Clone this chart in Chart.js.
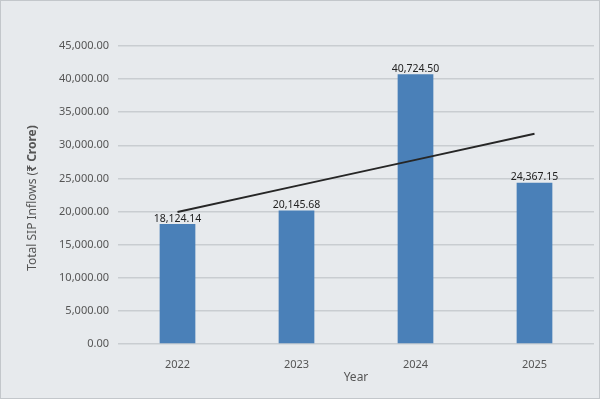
<!DOCTYPE html>
<html>
<head>
<meta charset="utf-8">
<script src="https://cdn.jsdelivr.net/npm/chart.js@4"></script>
<style>
  html, body { margin: 0; padding: 0; background: #e7eaed; }
  #wrap { width: 600px; height: 399px; }
</style>
</head>
<body>
<div id="wrap"><canvas id="sip-chart"></canvas></div>
<script>
const years = ['2022', '2023', '2024', '2025'];
const sipInflows = [18124.14, 20145.68, 40724.50, 24367.15];
// trend line (start ~19,950, end ~31,740)
const trendValues = [19944, 23875, 27806, 31737];
const yTitleParts = [['Total SIP Inflows (', 'normal'], ['₹ Crore)', 'bold']];

function fmt(v) {
    return Number(v).toLocaleString('en-US', { minimumFractionDigits: 2, maximumFractionDigits: 2 });
}

const frame = {
    id: 'frame',
    beforeDraw(chart) {
        const ctx = chart.ctx;
        ctx.save();
        ctx.fillStyle = '#e7eaed';
        ctx.fillRect(0, 0, chart.width, chart.height);
        ctx.strokeStyle = '#c3c7cb';
        ctx.lineWidth = 1;
        ctx.strokeRect(0.5, 0.5, chart.width - 1, chart.height - 1);
        ctx.restore();
    }
};

// value labels on top of the bars (bar dataset is index 1)
const barLabels = {
    id: 'barLabels',
    afterDatasetsDraw(chart) {
        const ctx = chart.ctx;
        const meta = chart.getDatasetMeta(1);
        ctx.save();
        ctx.font = '10.5px "Noto Sans"';
        ctx.fillStyle = '#222';
        ctx.textAlign = 'center';
        ctx.textBaseline = 'bottom';
        meta.data.forEach((bar, i) => {
            ctx.fillText(fmt(sipInflows[i]), bar.x, bar.y);
        });
        ctx.restore();
    }
};

// y axis title with the unit part in bold
const yTitle = {
    id: 'yTitle',
    afterDraw(chart) {
        const ctx = chart.ctx;
        const area = chart.chartArea;
        ctx.save();
        ctx.translate(33, (area.top + area.bottom) / 2 + 3);
        ctx.rotate(-Math.PI / 2);
        ctx.fillStyle = '#555';
        ctx.textBaseline = 'middle';
        let total = 0;
        yTitleParts.forEach(([t, w]) => {
            ctx.font = w + ' 12px "Noto Sans"';
            total += ctx.measureText(t).width;
        });
        let x = -total / 2;
        yTitleParts.forEach(([t, w]) => {
            ctx.font = w + ' 12px "Noto Sans"';
            ctx.fillText(t, x, 0);
            x += ctx.measureText(t).width;
        });
        ctx.restore();
    }
};

const chart = new Chart(document.getElementById('sip-chart'), {
    data: {
        labels: years,
        datasets: [{
            type: 'line',
            label: 'Trend',
            data: trendValues,
            borderColor: '#262626',
            borderWidth: 2,
            pointRadius: 0,
            fill: false,
            order: 0
        }, {
            type: 'bar',
            label: 'Total SIP Inflows',
            data: sipInflows,
            backgroundColor: '#4a80b8',
            barPercentage: 0.6,
            categoryPercentage: 0.5,
            order: 1
        }]
    },
    options: {
        responsive: true,
        maintainAspectRatio: false,
        animation: false,
        layout: { padding: { top: 46, right: 6, left: 0, bottom: 0 } },
        plugins: {
            legend: { display: false },
            tooltip: { enabled: false }
        },
        scales: {
            x: {
                grid: { display: false },
                border: { display: false },
                ticks: { color: '#555', font: { family: 'Noto Sans', size: 11 }, padding: 6 },
                title: {
                    display: true, text: 'Year', color: '#555',
                    font: { family: 'Noto Sans', size: 12 },
                    padding: { top: 0, bottom: 14 }
                },
                afterFit(s) { s.height = 55; }
            },
            y: {
                min: 0, max: 45000,
                ticks: { stepSize: 5000, color: '#555', font: { family: 'Noto Sans', size: 11 }, padding: 9, callback: v => fmt(v) },
                grid: { color: '#c9cdd1', lineWidth: 1.5, drawTicks: false },
                border: { display: false },
                afterFit(s) { s.width = 118; }
            }
        }
    },
    plugins: [frame, barLabels, yTitle]
});
</script>
</body>
</html>
